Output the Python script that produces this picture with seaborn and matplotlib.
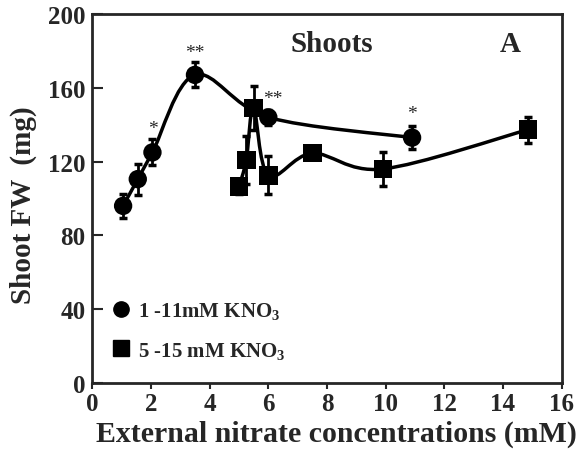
import numpy as np
import pandas as pd
import matplotlib
matplotlib.use("Agg")
import matplotlib.pyplot as plt
from matplotlib.path import Path
from matplotlib.patches import PathPatch
from matplotlib.lines import Line2D
import seaborn as sns

# dados
conc_1_11 = [1.05, 1.55, 2.05, 3.5, 6.0, 10.9]
fw_1_11 = [96, 110.5, 125, 167, 144, 133]
err_1_11 = [6.5, 8.4, 7, 6.8, 4, 6.3]

conc_5_15 = [5.0, 5.25, 5.5, 6.0, 7.5, 9.9, 14.85]
fw_5_15 = [106.5, 121, 149, 112.5, 124.5, 116, 137.3]
err_5_15 = [4, 13, 12, 10.3, 2, 9, 7]

star_x = [2.05, 3.5, 6.15, 10.9]
star_y = [138, 179, 154, 146]
star_txt = ["*", "**", "**", "*"]

labels = ["1 -11mM KNO$_3$", "5 -15 mM KNO$_3$"]
x_ticks = [0, 2, 4, 6, 8, 10, 12, 14, 16]
y_ticks = [0, 40, 80, 120, 160, 200]

sns.set_style("ticks")
plt.rcParams["font.family"] = ["Liberation Serif", "DejaVu Serif"]
plt.rcParams["font.weight"] = "bold"
plt.rcParams["axes.labelweight"] = "bold"
plt.rcParams["mathtext.fontset"] = "custom"
plt.rcParams["mathtext.rm"] = "Liberation Serif:bold"
plt.rcParams["mathtext.bf"] = "Liberation Serif:bold"
plt.rcParams["mathtext.default"] = "bf"


def curva_suave(x, y, tensao=0.5):
    # Catmull-Rom -> segmentos de Bezier cubicos
    p = np.column_stack([x, y]).astype(float)
    p = np.vstack([p[0], p, p[-1]])
    verts = [p[1]]
    codes = [Path.MOVETO]
    for i in range(1, len(p) - 2):
        c1 = p[i] + (p[i + 1] - p[i - 1]) * tensao / 3
        c2 = p[i + 1] - (p[i + 2] - p[i]) * tensao / 3
        verts += [c1, c2, p[i + 1]]
        codes += [Path.CURVE4] * 3
    return Path(verts, codes)


df = pd.concat([
    pd.DataFrame({"conc": conc_1_11, "fw": fw_1_11, "serie": labels[0]}),
    pd.DataFrame({"conc": conc_5_15, "fw": fw_5_15, "serie": labels[1]}),
])

fig = plt.figure(figsize=(5.82, 4.6), dpi=100)
ax = fig.add_axes([92.3 / 582, 1 - 384 / 460, (561.7 - 92.3) / 582, (384 - 15) / 460])

for xs, ys in [(conc_1_11, fw_1_11), (conc_5_15, fw_5_15)]:
    ax.add_patch(PathPatch(curva_suave(xs, ys), fill=False, lw=2.5, color="black", zorder=2))

ax.errorbar(conc_1_11, fw_1_11, yerr=err_1_11, fmt="none", ecolor="black",
            elinewidth=2, capsize=3, capthick=2.5, zorder=3)
ax.errorbar(conc_5_15, fw_5_15, yerr=err_5_15, fmt="none", ecolor="black",
            elinewidth=2, capsize=3, capthick=2.5, zorder=3)

sns.scatterplot(data=df, x="conc", y="fw", style="serie", markers=["o", "s"],
                color="black", s=175, edgecolor="black", linewidth=0, legend=False,
                ax=ax, zorder=4)

for x, y, t in zip(star_x, star_y, star_txt):
    ax.text(x, y, t, ha="center", va="center", fontsize=14, fontweight="normal")

ax.text(8.15, 184, "Shoots", ha="center", va="center", fontsize=21)
ax.text(14.25, 184, "A", ha="center", va="center", fontsize=21)

handles = [Line2D([], [], marker="o", color="black", ls="none", markersize=11),
           Line2D([], [], marker="s", color="black", ls="none", markersize=11)]
ax.legend(handles, labels, loc="center left", bbox_to_anchor=(0.039, 0.143),
          frameon=False, fontsize=15, handlelength=1, handletextpad=0.3,
          labelspacing=0.9, borderpad=0, borderaxespad=0)

ax.set_xlim(0, 16)
ax.set_ylim(0, 200)
ax.set_xticks(x_ticks)
ax.set_yticks(y_ticks)
ax.tick_params(axis="x", direction="out", length=4.5, width=1.5, labelsize=18, pad=2)
ax.tick_params(axis="y", direction="in", length=8, width=1.5, labelsize=18, pad=5)
for s in ax.spines.values():
    s.set_linewidth(2)
    s.set_visible(True)

ax.set_xlabel("External nitrate concentrations (mM)", fontsize=21.5, fontweight="bold")
ax.set_ylabel("Shoot FW  (mg)", fontsize=21, fontweight="bold")
ax.xaxis.set_label_coords(0.52, -0.1)
ax.yaxis.set_label_coords(-0.118, 0.485)

fig.savefig("out.png", dpi=100)
